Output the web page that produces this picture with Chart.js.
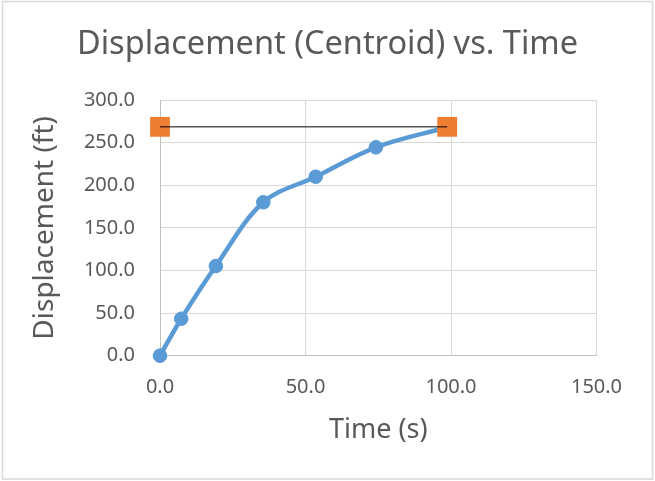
<!DOCTYPE html>
<html>
<head>
<meta charset="utf-8">
<script src="https://cdn.jsdelivr.net/npm/chart.js@4/dist/chart.umd.min.js"></script>
<style>
html,body{margin:0;padding:0;background:#fff;}
canvas{display:block;}
</style>
</head>
<body>
<canvas id="c" width="655" height="481"></canvas>
<script>
// ---- Data ----
const timeValues = [0, 7.3, 19.2, 35.5, 53.5, 74.2, 98.7];
const displacementValues = [0, 43.4, 105.2, 180, 210, 244.5, 268];
const refTime = [0, 98.7];
const refDisplacement = [268.5, 268.5];
const xTicks = [0, 50, 100, 150];
const yTicks = [0, 50, 100, 150, 200, 250, 300];
const titleText = 'Displacement (Centroid) vs. Time';
const xTitle = 'Time (s)';
const yTitle = 'Displacement (ft)';

const toPts = (xs, ys) => xs.map((x, i) => ({x: x, y: ys[i]}));

const FONT = "'Noto Sans', 'Open Sans', sans-serif";
const TEXT = '#595959';

const borderPlugin = {
  id: 'outerBorder',
  beforeDraw(chart) {
    const ctx = chart.ctx;
    ctx.save();
    ctx.fillStyle = '#ffffff';
    ctx.fillRect(0, 0, chart.width, chart.height);
    ctx.strokeStyle = '#d9d9d9';
    ctx.lineWidth = 1.5;
    ctx.strokeRect(2.5, 1.5, 650, 477.5);
    ctx.restore();
  }
};

new Chart(document.getElementById('c'), {
  type: 'scatter',
  data: {
    datasets: [
      {
        label: 'ref line',
        data: toPts(refTime, refDisplacement),
        showLine: true,
        borderColor: '#000000',
        borderWidth: 1,
        pointRadius: 0,
        clip: false,
        order: 0
      },
      {
        label: 'ref points',
        data: toPts(refTime, refDisplacement),
        showLine: false,
        pointStyle: 'rect',
        pointRadius: 14,
        pointBackgroundColor: '#ED7D31',
        pointBorderColor: '#ED7D31',
        pointBorderWidth: 0,
        clip: false,
        order: 1
      },
      {
        label: 'Displacement',
        data: toPts(timeValues, displacementValues),
        showLine: true,
        tension: 0.35,
        borderColor: '#5B9BD5',
        borderWidth: 4.5,
        pointRadius: 6.8,
        pointBackgroundColor: '#5B9BD5',
        pointBorderColor: '#5B9BD5',
        pointBorderWidth: 1,
        clip: false,
        order: 2
      }
    ]
  },
  options: {
    responsive: false,
    animation: false,
    devicePixelRatio: 1,
    layout: { padding: { left: 0, right: 0, top: 0, bottom: 0 } },
    plugins: {
      legend: { display: false },
      tooltip: { enabled: false },
      title: {
        display: true,
        text: titleText,
        color: TEXT,
        font: { family: FONT, size: 32.5, weight: 'normal', lineHeight: 1.2 },
        padding: { top: 25.5, bottom: 35.5 }
      }
    },
    scales: {
      x: {
        type: 'linear',
        min: 0,
        max: 150,
        afterBuildTicks: (s) => { s.ticks = xTicks.map(v => ({value: v})); },
        afterFit: (s) => { s.height = 125.3; },
        grid: { color: '#d9d9d9', lineWidth: 1, drawTicks: false },
        border: { color: '#bfbfbf', width: 1 },
        ticks: {
          color: TEXT,
          padding: 20,
          font: { family: FONT, size: 20 },
          callback: (v) => Number(v).toFixed(1)
        },
        title: {
          display: true,
          text: xTitle,
          color: TEXT,
          font: { family: FONT, size: 27, lineHeight: 1.2 },
          padding: { top: 0, bottom: 34.8 }
        }
      },
      y: {
        type: 'linear',
        min: 0,
        max: 300,
        afterBuildTicks: (s) => { s.ticks = yTicks.map(v => ({value: v})); },
        afterFit: (s) => { s.width = 160; },
        grid: { color: '#d9d9d9', lineWidth: 1, drawTicks: false },
        border: { color: '#bfbfbf', width: 1 },
        ticks: {
          color: TEXT,
          padding: 25,
          font: { family: FONT, size: 20 },
          callback: (v) => Number(v).toFixed(1)
        },
        title: {
          display: true,
          text: yTitle,
          color: TEXT,
          font: { family: FONT, size: 28, lineHeight: 1.2 },
          padding: { top: 28, bottom: 0 }
        }
      },
      spacer: {
        type: 'linear',
        position: 'right',
        display: true,
        afterFit: (s) => { s.width = 58.5; },
        grid: { display: false, drawOnChartArea: false, drawTicks: false },
        border: { display: false },
        ticks: { display: false },
        title: { display: false }
      }
    }
  },
  plugins: [borderPlugin]
});
</script>
</body>
</html>
